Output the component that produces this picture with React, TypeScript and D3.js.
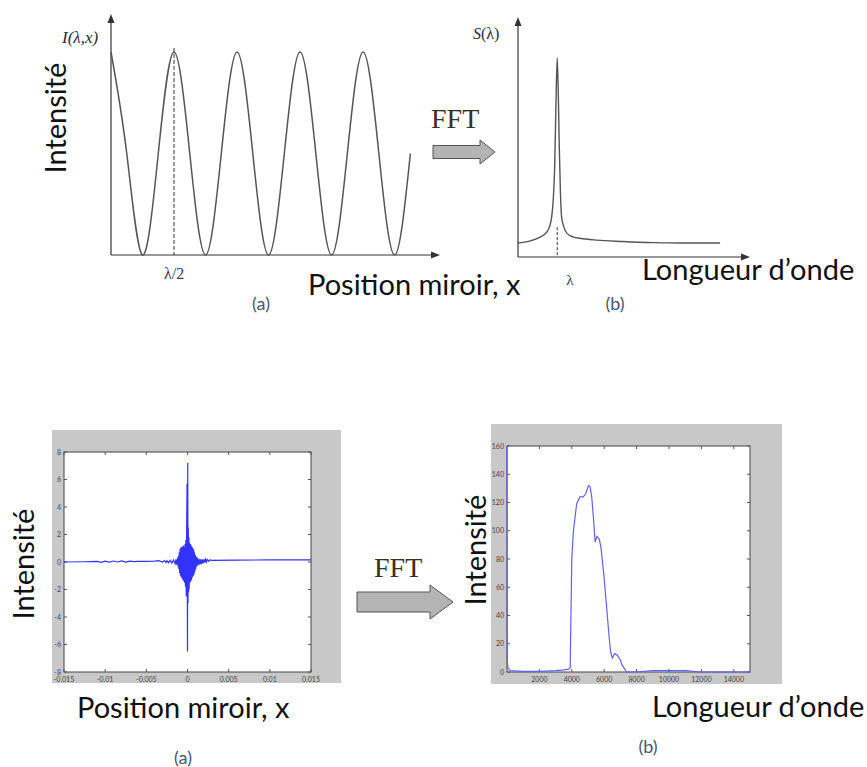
import React from "react";
import * as d3 from "d3";

// ---------- DATA ----------
// (a) top: ideal interferogram, read at quarter periods
const posA = [0, 0.25, 0.5, 0.75, 1, 1.25, 1.5, 1.75, 2, 2.25, 2.5, 2.75, 3, 3.25, 3.5, 3.75, 4, 4.25, 4.5, 4.75];
const intensityA = [1, 0.5, 0, 0.5, 1, 0.5, 0, 0.5, 1, 0.5, 0, 0.5, 1, 0.5, 0, 0.5, 1, 0.5, 0, 0.5];

// (b) top: single line spectrum
const lambdaB = [0, 0.5, 0.95, 1.2, 1.35, 1.45, 1.52, 1.58, 1.64, 1.69, 1.74, 1.78, 1.83, 1.88, 1.98, 2.1, 2.4, 2.67, 3.39, 4.5, 5.82, 7.0, 8.71];
const spectrumB = [0.07, 0.08, 0.1, 0.12, 0.15, 0.2, 0.29, 0.45, 0.79, 1.0, 0.8, 0.55, 0.32, 0.2, 0.15, 0.12, 0.1, 0.094, 0.085, 0.078, 0.072, 0.07, 0.07];

// (a) bottom: measured interferogram
const interfBaseLeft: [number, number][] = [
  [-0.015, 0.0], [-0.0125, 0.02], [-0.011, 0.05], [-0.0105, -0.02], [-0.01, 0.06], [-0.0095, -0.01],
  [-0.009, 0.07], [-0.0085, 0.0], [-0.008, 0.08], [-0.0075, -0.01], [-0.007, 0.06], [-0.0065, 0.03],
  [-0.006, 0.04], [-0.005, 0.05], [-0.004, 0.06], [-0.0035, 0.1], [-0.003, 0.0], [-0.0028, 0.1], [-0.0026, -0.05],
];
const interfBurst: [number, number][] = [
  [-0.0025, 0.1], [-0.0023, -0.05], [-0.0021, 0.12], [-0.0019, -0.08], [-0.0017, 0.15], [-0.0015, -0.12],
  [-0.0014, 0.2], [-0.0013, -0.2], [-0.0012, 0.3], [-0.00115, -0.35], [-0.0011, 0.45], [-0.00105, -0.5],
  [-0.001, 0.7], [-0.00095, -0.8], [-0.0009, 0.95], [-0.00085, -1.0], [-0.0008, 1.05], [-0.00075, -1.1],
  [-0.0007, 1.1], [-0.00065, -1.2], [-0.0006, 1.1], [-0.00055, -1.3], [-0.0005, 1.2], [-0.00045, -1.4],
  [-0.0004, 1.1], [-0.00035, -1.5], [-0.0003, 1.3], [-0.00025, -1.8], [-0.0002, 1.6], [-0.00015, -2.5],
  [-0.0001, 2.8], [-0.00005, 5.7], [-0.00002, -2.4], [0.0, -6.5], [0.00003, 7.2], [0.00006, -3.0],
  [0.0001, 2.5], [0.00013, -2.2], [0.00017, 1.8], [0.0002, -2.0], [0.00025, 1.4], [0.0003, -1.5],
  [0.00035, 1.3], [0.0004, -1.4], [0.00045, 1.2], [0.0005, -1.3], [0.00055, 1.1], [0.0006, -1.1],
  [0.00065, 1.0], [0.0007, -1.0], [0.00075, 0.9], [0.0008, -0.9], [0.00085, 0.7], [0.0009, -0.7],
  [0.00095, 0.5], [0.001, -0.5], [0.00105, 0.4], [0.0011, -0.35], [0.0012, 0.3], [0.0013, -0.25],
  [0.0014, 0.25], [0.0015, -0.2], [0.0016, 0.2], [0.0017, -0.15], [0.0018, 0.2], [0.0019, -0.1],
  [0.002, 0.2], [0.0021, -0.05], [0.0022, 0.2], [0.0023, 0.0], [0.0024, 0.18], [0.0026, 0.05], [0.0027, 0.15],
];
const interfBaseRight: [number, number][] = [[0.003, 0.12], [0.006, 0.14], [0.01, 0.15], [0.015, 0.16]];
const interfXTicks = [-0.015, -0.01, -0.005, 0, 0.005, 0.01, 0.015];
const interfXTickLabels = ["-0.015", "-0.01", "-0.005", "0", "0.005", "0.01", "0.015"];
const interfYTicks = [-8, -6, -4, -2, 0, 2, 4, 6, 8];

// (b) bottom: measured spectrum
const wavelengthD = [0, 20, 60, 200, 1000, 2000, 3000, 3500, 3800, 3900, 4000, 4100, 4300, 4500, 4700, 4850, 5030, 5130, 5230, 5330, 5440, 5550, 5700, 5800, 5950, 6150, 6300, 6400, 6500, 6650, 6800, 6975, 7100, 7384, 8000, 9000, 10000, 11000, 11500, 12000, 15000];
const spectrumD = [160, 8, 3, 1, 0.5, 0.5, 1, 1.5, 2, 3, 80, 100, 119, 124, 124, 126, 132, 131, 124, 110, 92, 96, 94, 88, 72, 46, 25, 14, 10, 13, 12, 9, 5, 0, 0, 1, 1, 1, 0.5, 0, 0];
const specXTicks = [2000, 4000, 6000, 8000, 10000, 12000, 14000];
const specYTicks = [0, 20, 40, 60, 80, 100, 120, 140, 160];

const SANS = "Lato, 'Open Sans', sans-serif";
const SERIF = "'Liberation Serif', 'DejaVu Serif', serif";

function tri(x: number, y: number, dir: "up" | "right") {
  if (dir === "up") return `M${x},${y} L${x - 3.5},${y + 9} L${x + 3.5},${y + 9} Z`;
  return `M${x},${y} L${x - 9},${y - 3.5} L${x - 9},${y + 3.5} Z`;
}

function bigArrow(x0: number, x1: number, xh: number, yc: number, bh: number, hh: number) {
  return `M${x0},${yc - bh} L${xh},${yc - bh} L${xh},${yc - hh} L${x1},${yc} L${xh},${yc + hh} L${xh},${yc + bh} L${x0},${yc + bh} Z`;
}

export default function App() {
  // ---- panel (a) top
  const xA = d3.scaleLinear().domain([0, 5.22]).range([111, 440]);
  const yA = d3.scaleLinear().domain([0, 1]).range([255, 52]);
  const lineA = d3.line<number>().x((_, i) => xA(posA[i])).y((d) => yA(d)).curve(d3.curveNatural);

  // ---- panel (b) top
  const xB = d3.scaleLinear().domain([0, 10]).range([518, 750]);
  const yB = d3.scaleLinear().domain([0, 1]).range([257, 58]);
  const lineB = d3.line<number>().x((_, i) => xB(lambdaB[i])).y((d) => yB(d)).curve(d3.curveMonotoneX);

  // ---- panel (a) bottom
  const xC = d3.scaleLinear().domain([-0.015, 0.015]).range([64, 311]);
  const yC = d3.scaleLinear().domain([-8, 8]).range([672, 452]);
  const interf = [...interfBaseLeft, ...interfBurst, ...interfBaseRight];
  const lineC = d3.line<[number, number]>().x((d) => xC(d[0])).y((d) => yC(d[1]));

  // ---- panel (b) bottom
  const xD = d3.scaleLinear().domain([0, 15000]).range([507, 750]);
  const yD = d3.scaleLinear().domain([0, 160]).range([672, 446]);
  const lineD = d3.line<number>().x((_, i) => xD(wavelengthD[i])).y((d) => yD(d));

  const axisCol = "#333";
  const tickCol = "#555";
  const bigFont = 29;
  const tagFont = 18;
  const tagCol = "#4a5570";

  return (
    <svg width={867} height={767} style={{ position: "absolute", left: 0, top: 0, background: "#fff" }}>
      {/* ================= TOP LEFT ================= */}
      <line x1={xA(0)} y1={yA(0)} x2={xA(0)} y2={18} stroke={axisCol} strokeWidth={1.2} />
      <path d={tri(xA(0), 14, "up")} fill={axisCol} />
      <line x1={xA(0)} y1={yA(0)} x2={xA(5.22) - 4} y2={yA(0)} stroke={axisCol} strokeWidth={1.2} />
      <path d={tri(xA(5.22), yA(0), "right")} fill={axisCol} />
      <path d={lineA(intensityA) || ""} fill="none" stroke="#555" strokeWidth={1.5} />
      <line x1={xA(1)} y1={yA(1.02)} x2={xA(1)} y2={yA(0)} stroke="#333" strokeWidth={1} strokeDasharray="4,2" />
      <text x={62} y={43} fontFamily={SERIF} fontStyle="italic" fontSize={17} fill="#2a2a3a">I(λ,x)</text>
      <text x={xA(1)} y={279} fontFamily={SERIF} fontSize={16} fill="#3a3a5a" textAnchor="middle">λ/2</text>
      <text transform="translate(66,118) rotate(-90)" fontFamily={SANS} fontSize={bigFont} fill="#111" textAnchor="middle">Intensité</text>
      <text x={308} y={295} fontFamily={SANS} fontSize={bigFont} fill="#111">Position miroir, x</text>
      <text x={261} y={310} fontFamily={SANS} fontSize={tagFont} fill={tagCol} textAnchor="middle">(a)</text>

      {/* FFT top */}
      <text x={431} y={128} fontFamily={SERIF} fontSize={28} fill="#3a3020">FFT</text>
      <path d={bigArrow(433, 495, 480, 152, 6.5, 12)} fill="#b4b4b4" stroke="#555" strokeWidth={1} />

      {/* ================= TOP RIGHT ================= */}
      <line x1={xB(0)} y1={yB(0)} x2={xB(0)} y2={21} stroke={axisCol} strokeWidth={1.2} />
      <path d={tri(xB(0), 17, "up")} fill={axisCol} />
      <line x1={xB(0)} y1={yB(0)} x2={xB(10) - 4} y2={yB(0)} stroke={axisCol} strokeWidth={1.2} />
      <path d={tri(xB(10), yB(0), "right")} fill={axisCol} />
      <path d={lineB(spectrumB) || ""} fill="none" stroke="#555" strokeWidth={1.4} />
      <line x1={xB(1.69)} y1={yB(0.15)} x2={xB(1.69)} y2={yB(0)} stroke="#333" strokeWidth={1} strokeDasharray="3,2" />
      <text x={473} y={39} fontFamily={SERIF} fontSize={16} fill="#2a2a3a"><tspan fontStyle="italic">S</tspan>(λ)</text>
      <text x={570} y={285} fontFamily={SERIF} fontSize={15} fill="#3a3a5a" textAnchor="middle">λ</text>
      <text x={642} y={280} fontFamily={SANS} fontSize={bigFont} fill="#111">Longueur d’onde</text>
      <text x={615} y={310} fontFamily={SANS} fontSize={tagFont} fill={tagCol} textAnchor="middle">(b)</text>

      {/* ================= BOTTOM LEFT ================= */}
      <rect x={52} y={430} width={289} height={253} fill="#c8c8c8" />
      <rect x={64} y={452} width={247} height={220} fill="#fff" stroke="#444" strokeWidth={1} />
      {interfXTicks.map((t, i) => (
        <g key={"cx" + i}>
          <line x1={xC(t)} x2={xC(t)} y1={672} y2={669} stroke={tickCol} />
          <line x1={xC(t)} x2={xC(t)} y1={452} y2={455} stroke={tickCol} />
          <text x={xC(t)} y={682} fontFamily={SANS} fontSize={7} fill="#444" textAnchor="middle">{interfXTickLabels[i]}</text>
        </g>
      ))}
      {interfYTicks.map((t) => (
        <g key={"cy" + t}>
          <line x1={64} x2={67} y1={yC(t)} y2={yC(t)} stroke={tickCol} />
          <line x1={311} x2={308} y1={yC(t)} y2={yC(t)} stroke={tickCol} />
          <text x={61} y={yC(t) + 2.5} fontFamily={SANS} fontSize={7} fill="#444" textAnchor="end">{t}</text>
        </g>
      ))}
      <path d={lineC(interf) || ""} fill="none" stroke="#0000ff" strokeWidth={1.2} strokeOpacity={0.8} />
      <text transform="translate(34,564) rotate(-90)" fontFamily={SANS} fontSize={bigFont} fill="#111" textAnchor="middle">Intensité</text>
      <text x={77} y={718} fontFamily={SANS} fontSize={bigFont} fill="#111">Position miroir, x</text>
      <text x={183} y={764} fontFamily={SANS} fontSize={tagFont} fill={tagCol} textAnchor="middle">(a)</text>

      {/* FFT bottom */}
      <text x={374} y={577} fontFamily={SERIF} fontSize={28} fill="#3a3020">FFT</text>
      <path d={bigArrow(357, 453, 430, 602, 10, 17)} fill="#b4b4b4" stroke="#555" strokeWidth={1} />

      {/* ================= BOTTOM RIGHT ================= */}
      <rect x={491} y={424} width={291} height={260} fill="#c8c8c8" />
      <rect x={507} y={446} width={243} height={226} fill="#fff" stroke="#444" strokeWidth={1} />
      {specXTicks.map((t) => (
        <g key={"dx" + t}>
          <line x1={xD(t)} x2={xD(t)} y1={672} y2={669} stroke={tickCol} />
          <line x1={xD(t)} x2={xD(t)} y1={446} y2={449} stroke={tickCol} />
          <text x={xD(t)} y={682} fontFamily={SANS} fontSize={7} fill="#444" textAnchor="middle">{t}</text>
        </g>
      ))}
      {specYTicks.map((t) => (
        <g key={"dy" + t}>
          <line x1={507} x2={510} y1={yD(t)} y2={yD(t)} stroke={tickCol} />
          <line x1={750} x2={747} y1={yD(t)} y2={yD(t)} stroke={tickCol} />
          <text x={504} y={yD(t) + 2.5} fontFamily={SANS} fontSize={7} fill="#444" textAnchor="end">{t}</text>
        </g>
      ))}
      <path d={lineD(spectrumD) || ""} fill="none" stroke="#6060ff" strokeWidth={1.2} />
      <text transform="translate(486,550) rotate(-90)" fontFamily={SANS} fontSize={bigFont} fill="#111" textAnchor="middle">Intensité</text>
      <text x={652} y={717} fontFamily={SANS} fontSize={bigFont} fill="#111">Longueur d’onde</text>
      <text x={648} y={753} fontFamily={SANS} fontSize={tagFont} fill={tagCol} textAnchor="middle">(b)</text>
    </svg>
  );
}
